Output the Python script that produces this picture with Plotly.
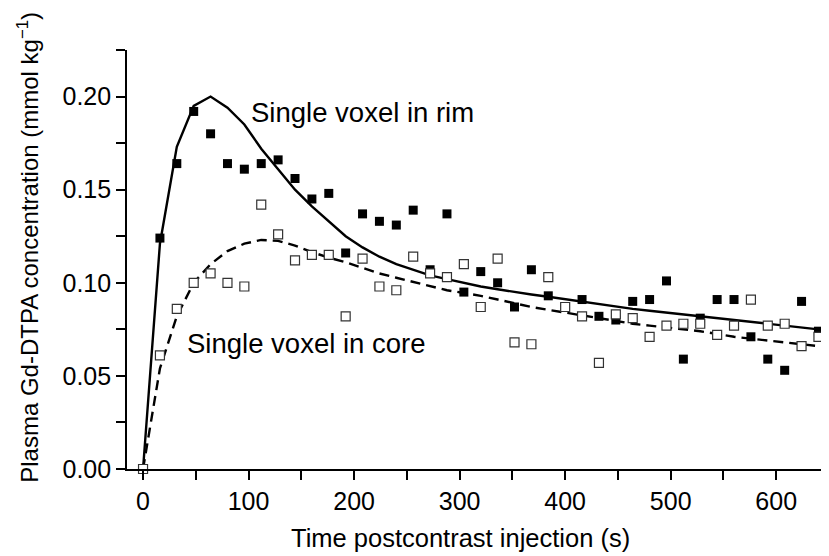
import plotly.graph_objects as go

# Time points (s)
time_s = [0, 16, 32, 48, 64, 80, 96, 112, 128, 144, 160, 176, 192, 208, 224, 240,
          256, 272, 288, 304, 320, 336, 352, 368, 384, 400, 416, 432, 448, 464,
          480, 496, 512, 528, 544, 560, 576, 592, 608, 624, 640]

# Measured concentrations, single voxel in rim (filled squares)
rim_data = [0.000, 0.124, 0.164, 0.192, 0.180, 0.164, 0.161, 0.164, 0.166, 0.156,
            0.145, 0.148, 0.116, 0.137, 0.133, 0.131, 0.139, 0.107, 0.137, 0.095,
            0.106, 0.100, 0.087, 0.107, 0.093, 0.087, 0.091, 0.082, 0.080, 0.090,
            0.091, 0.101, 0.059, 0.081, 0.091, 0.091, 0.071, 0.059, 0.053, 0.090,
            0.074]

# Measured concentrations, single voxel in core (open squares)
core_data = [0.000, 0.061, 0.086, 0.100, 0.105, 0.100, 0.098, 0.142, 0.126, 0.112,
             0.115, 0.115, 0.082, 0.113, 0.098, 0.096, 0.114, 0.105, 0.103, 0.110,
             0.087, 0.113, 0.068, 0.067, 0.103, 0.087, 0.082, 0.057, 0.083, 0.081,
             0.071, 0.077, 0.078, 0.078, 0.072, 0.077, 0.091, 0.077, 0.078, 0.066,
             0.071]

# Model fits
rim_fit = [0.000, 0.121, 0.173, 0.195, 0.200, 0.194, 0.185, 0.172, 0.161, 0.150,
           0.141, 0.133, 0.125, 0.119, 0.114, 0.110, 0.107, 0.104, 0.102, 0.100,
           0.098, 0.0965, 0.095, 0.0937, 0.0925, 0.0912, 0.090, 0.0887, 0.0872, 0.086,
           0.085, 0.084, 0.083, 0.082, 0.081, 0.080, 0.079, 0.078, 0.077, 0.076,
           0.075]

core_fit = [0.000, 0.054, 0.082, 0.100, 0.110, 0.117, 0.121, 0.123, 0.1225, 0.120,
            0.1165, 0.1135, 0.111, 0.108, 0.105, 0.1027, 0.1005, 0.098, 0.096, 0.0945,
            0.093, 0.091, 0.089, 0.087, 0.0855, 0.084, 0.0825, 0.081, 0.0795, 0.078,
            0.077, 0.076, 0.075, 0.074, 0.0725, 0.071, 0.070, 0.069, 0.068, 0.067,
            0.066]

x_title = "Time postcontrast injection (s)"
y_title = "Plasma Gd-DTPA concentration (mmol kg<sup>−1</sup>)"
rim_label = "Single voxel in rim"
core_label = "Single voxel in core"

FONT = "Liberation Sans, Arial, Helvetica, sans-serif"

fig = go.Figure()
fig.add_trace(go.Scatter(x=time_s, y=rim_fit, mode="lines",
                         line=dict(color="black", width=2.4), cliponaxis=False))
fig.add_trace(go.Scatter(x=time_s, y=core_fit, mode="lines",
                         line=dict(color="black", width=2.4, dash="10px,6px"),
                         cliponaxis=False))
fig.add_trace(go.Scatter(x=time_s, y=rim_data, mode="markers",
                         marker=dict(symbol="square", size=9, color="black",
                                     line=dict(width=0)), cliponaxis=False))
fig.add_trace(go.Scatter(x=time_s, y=core_data, mode="markers",
                         marker=dict(symbol="square", size=9, color="white",
                                     line=dict(color="#333333", width=1.2)),
                         cliponaxis=False))

fig.add_annotation(x=100, y=0.1914, text=rim_label, showarrow=False,
                   xanchor="left", yanchor="middle",
                   font=dict(family=FONT, size=27.5, color="black"))
fig.add_annotation(x=39.5, y=0.0675, text=core_label, showarrow=False,
                   xanchor="left", yanchor="middle",
                   font=dict(family=FONT, size=27.5, color="black"))

# axis titles as paper-positioned annotations
fig.add_annotation(xref="paper", yref="paper", x=0.4744, y=-0.1637,
                   text=x_title, showarrow=False, xanchor="center", yanchor="middle",
                   font=dict(family=FONT, size=25.5, color="black"))
fig.add_annotation(xref="paper", yref="paper", x=-0.141, y=0.528,
                   text=y_title, showarrow=False, textangle=-90,
                   xanchor="center", yanchor="middle",
                   font=dict(family=FONT, size=24, color="black"))

fig.update_layout(
    width=829, height=556,
    margin=dict(l=119, r=8, t=42, b=95),
    paper_bgcolor="white", plot_bgcolor="white",
    showlegend=False,
    font=dict(family=FONT, size=25, color="black"),
    xaxis=dict(range=[-15.2, 650], showgrid=False, zeroline=False,
               showline=True, linecolor="black", linewidth=1.6,
               ticks="outside", ticklen=9, tickwidth=1.6, tickcolor="black",
               tick0=0, dtick=100, tickfont=dict(size=25),
               minor=dict(dtick=50, tick0=0, ticks="outside", ticklen=9,
                          tickwidth=1.6, tickcolor="black", showgrid=False)),
    yaxis=dict(range=[0, 0.225], showgrid=False, zeroline=False,
               showline=True, linecolor="black", linewidth=1.6,
               ticks="outside", ticklen=9, tickwidth=1.6, tickcolor="black",
               tick0=0, dtick=0.05, tickformat=".2f", tickfont=dict(size=25),
               minor=dict(dtick=0.025, tick0=0, ticks="outside", ticklen=9,
                          tickwidth=1.6, tickcolor="black", showgrid=False)),
)

fig.write_html("out.html")
